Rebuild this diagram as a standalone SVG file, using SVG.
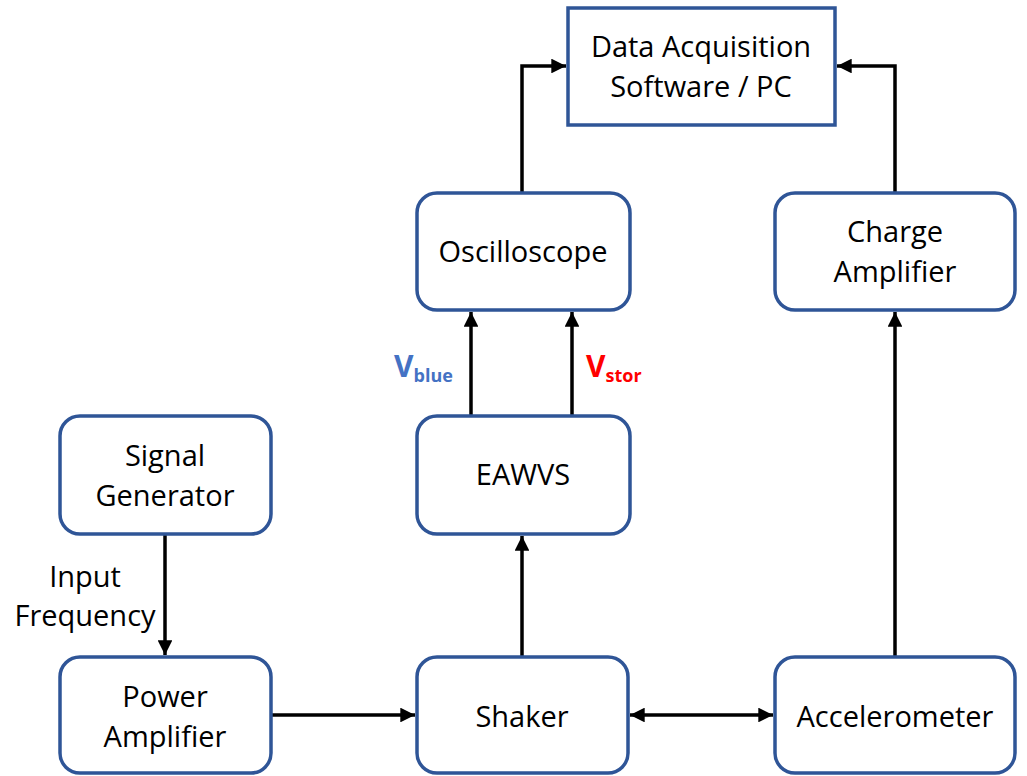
<svg xmlns="http://www.w3.org/2000/svg" width="1027" height="776" viewBox="0 0 1027 776">
<style>
.box{fill:#fff;stroke:#2F5597;stroke-width:3.5}
.t{font-family:"Open Sans","Liberation Sans",sans-serif;font-size:29px;fill:#000;text-anchor:middle}
.c{stroke:#000;stroke-width:3.5;fill:none}
.v{font-family:"Open Sans","Liberation Sans",sans-serif;font-weight:bold;}
</style>
<defs>
<marker id="ah" viewBox="0 0 10 10" refX="10" refY="5" markerWidth="4.2" markerHeight="4.2" orient="auto-start-reverse" markerUnits="strokeWidth">
<path d="M0,0 L10,5 L0,10 z" fill="#000"/>
</marker>
</defs>
<rect width="1027" height="776" fill="#fff"/>
<g id="connectors">
<path class="c" d="M165,535 V655" marker-end="url(#ah)"/>
<path class="c" d="M271,715 H415" marker-end="url(#ah)"/>
<path class="c" d="M630,715 H773" marker-start="url(#ah)" marker-end="url(#ah)"/>
<path class="c" d="M522,657 V536" marker-end="url(#ah)"/>
<path class="c" d="M471,416 V312" marker-end="url(#ah)"/>
<path class="c" d="M572,416 V312" marker-end="url(#ah)"/>
<path class="c" d="M522,193 V66 H566" marker-end="url(#ah)"/>
<path class="c" d="M895,193 V66 H837" marker-end="url(#ah)"/>
<path class="c" d="M895,657 V312" marker-end="url(#ah)"/>
</g>
<g id="daq"><rect class="box" x="568" y="8" width="267" height="117"/>
<text class="t" x="701" y="57">Data Acquisition</text><text class="t" x="701" y="97">Software / PC</text></g>
<g id="oscilloscope"><rect class="box" x="417" y="193" width="213" height="117" rx="20"/>
<text class="t" x="523" y="262">Oscilloscope</text></g>
<g id="charge-amplifier"><rect class="box" x="775" y="193" width="240" height="117" rx="20"/>
<text class="t" x="895" y="242">Charge</text><text class="t" x="895" y="282">Amplifier</text></g>
<g id="eawvs"><rect class="box" x="417" y="416" width="213" height="118" rx="20"/>
<text class="t" x="523" y="485">EAWVS</text></g>
<g id="signal-generator"><rect class="box" x="60" y="416" width="211" height="118" rx="20"/>
<text class="t" x="165" y="466">Signal</text><text class="t" x="165" y="506">Generator</text></g>
<g id="power-amplifier"><rect class="box" x="60" y="657" width="211" height="116" rx="20"/>
<text class="t" x="165" y="707">Power</text><text class="t" x="165" y="747">Amplifier</text></g>
<g id="shaker"><rect class="box" x="417" y="657" width="211" height="116" rx="20"/>
<text class="t" x="522" y="727">Shaker</text></g>
<g id="accelerometer"><rect class="box" x="775" y="657" width="240" height="116" rx="20"/>
<text class="t" x="895" y="727">Accelerometer</text></g>
<g id="labels">
<text class="t" x="85" y="587">Input</text><text class="t" x="85" y="626">Frequency</text>
<text class="v" x="394" y="377" fill="#4472C4" font-size="30">V<tspan font-size="18" dy="5">blue</tspan></text>
<text class="v" x="586" y="377" fill="#FF0000" font-size="30">V<tspan font-size="18" dy="5">stor</tspan></text>
</g>
</svg>
